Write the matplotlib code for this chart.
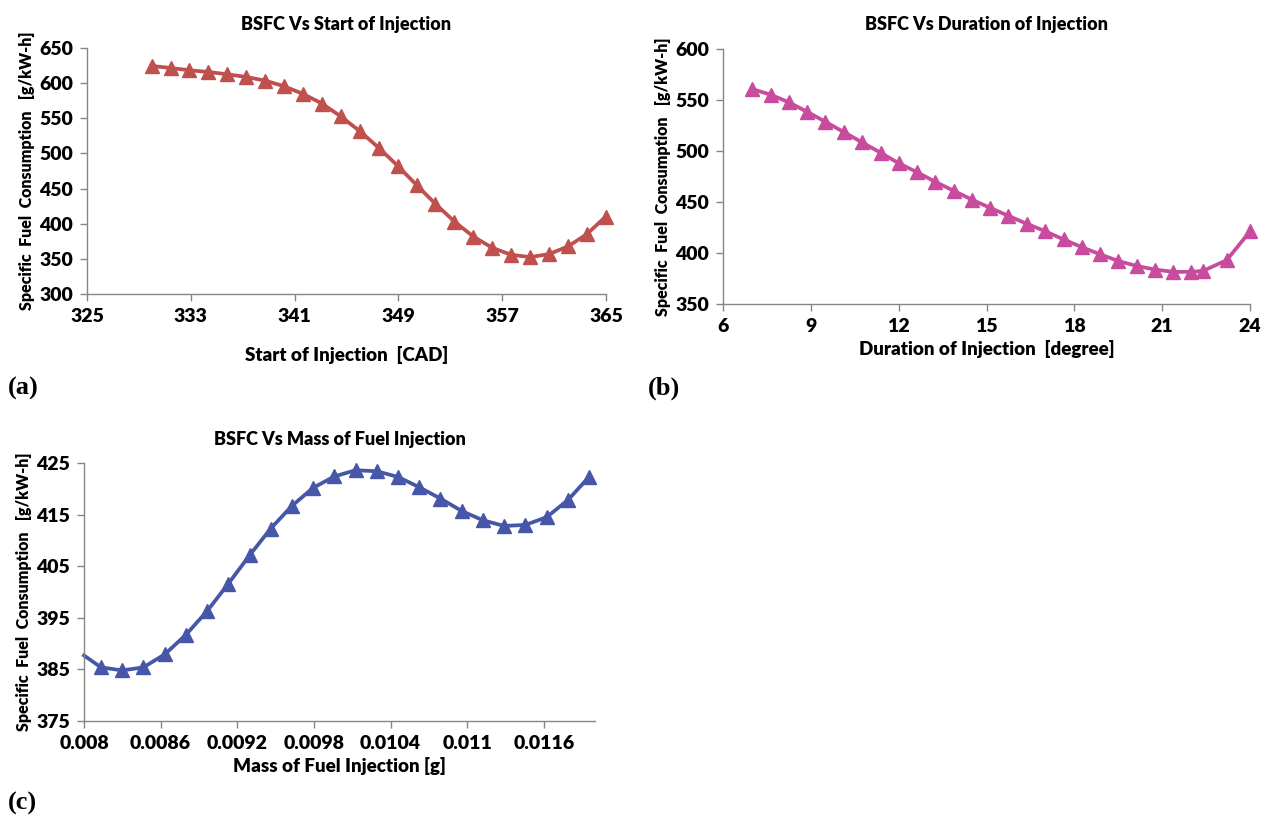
import matplotlib
matplotlib.use("Agg")
import matplotlib.pyplot as plt

plt.rcParams['font.family'] = ['Lato', 'DejaVu Sans']

# ---- Data (a) ----
soi_x = [329.98 + i * 35.0 / 24 for i in range(25)]
soi_y = [624.5, 621.6, 618.3, 615.9, 612.6, 608.8, 603.6, 595.6, 584.7, 571.0,
         552.6, 531.7, 508.1, 482.5, 455.1, 428.2, 403.1, 381.8, 365.7, 355.8,
         352.5, 356.7, 367.6, 385.1, 410.2]
soi_xticks = [325, 333, 341, 349, 357, 365]
soi_yticks = [300, 350, 400, 450, 500, 550, 600, 650]

# ---- Data (b) ----
doi_x = [7.0, 7.63, 8.25, 8.88, 9.5, 10.13, 10.75, 11.38, 12.0, 12.63, 13.25, 13.88,
         14.5, 15.13, 15.75, 16.38, 17.0, 17.63, 18.25, 18.88, 19.5, 20.13, 20.75,
         21.38, 22.0, 22.4, 23.2, 24.0]
doi_y = [560.7, 555.2, 547.7, 538.3, 528.6, 518.5, 508.4, 498.4, 488.0, 479.2, 469.8,
         461.0, 452.3, 444.2, 436.4, 428.6, 421.4, 413.3, 405.8, 398.7, 392.2, 387.3,
         383.8, 381.5, 381.5, 382.5, 392.9, 421.1]
doi_xticks = [6, 9, 12, 15, 18, 21, 24]
doi_yticks = [350, 400, 450, 500, 550, 600]

# ---- Data (c) ----
mfi_x = [0.008] + [0.008133 + i * 0.0001661 for i in range(24)]
mfi_y = [387.7, 385.4, 384.8, 385.4, 387.9, 391.7, 396.3, 401.6, 407.1, 412.3, 416.7,
         420.2, 422.4, 423.6, 423.4, 422.3, 420.3, 418.1, 415.7, 413.9, 412.8, 413.0,
         414.5, 417.8, 422.3]
mfi_xticks = [0.008, 0.0086, 0.0092, 0.0098, 0.0104, 0.011, 0.0116]
mfi_xticklabels = ['0.008', '0.0086', '0.0092', '0.0098', '0.0104', '0.011', '0.0116']
mfi_yticks = [375, 385, 395, 405, 415, 425]

W, H = 1266, 823
fig = plt.figure(figsize=(W / 100, H / 100), dpi=100)

def rect(l, t, r, b):
    return [l / W, 1 - b / H, (r - l) / W, (b - t) / H]

SPINE = '#868686'
WT = 'heavy'

def style(ax):
    for s in ['top', 'right']:
        ax.spines[s].set_visible(False)
    for s in ['left', 'bottom']:
        ax.spines[s].set_color(SPINE)
        ax.spines[s].set_linewidth(1.0)
    ax.tick_params(axis='both', direction='out', color=SPINE, length=5, width=1.0,
                   labelsize=14, pad=5)
    for lab in ax.get_xticklabels() + ax.get_yticklabels():
        lab.set_fontweight(WT)

ylab = 'Specific  Fuel  Consumption   [g/kW-h]'
TS = 13
XS = 13.5
YS = 11.5
LW = 2.7
MS = 10.5

# (a)
ax1 = fig.add_axes(rect(87, 48, 606, 294))
ax1.plot(soi_x, soi_y, color='#C0504D', lw=LW, marker='^', ms=MS, clip_on=False)
ax1.set_xlim(325, 365)
ax1.set_ylim(300, 650)
ax1.set_xticks(soi_xticks)
ax1.set_yticks(soi_yticks)
style(ax1)
ax1.set_title('BSFC Vs Start of Injection', fontsize=TS, fontweight=WT, pad=13)
ax1.set_xlabel('Start of Injection  [CAD]', fontsize=XS, fontweight=WT, labelpad=15)
ax1.set_ylabel(ylab, fontsize=YS, fontweight=WT, labelpad=3)

# (b)
ax2 = fig.add_axes(rect(723, 49, 1250, 304))
ax2.plot(doi_x, doi_y, color='#C84B9E', lw=LW, marker='^', ms=MS, clip_on=False)
ax2.set_xlim(6, 24)
ax2.set_ylim(350, 600)
ax2.set_xticks(doi_xticks)
ax2.set_yticks(doi_yticks)
style(ax2)
ax2.set_title('BSFC Vs Duration of Injection', fontsize=TS, fontweight=WT, pad=14)
ax2.set_xlabel('Duration of Injection  [degree]', fontsize=XS, fontweight=WT, labelpad=4)
ax2.set_ylabel(ylab, fontsize=YS, fontweight=WT, labelpad=3)

# (c)
ax3 = fig.add_axes(rect(84, 463, 595, 721))
ax3.plot(mfi_x, mfi_y, color='#4656A8', lw=LW, clip_on=False)
ax3.plot(mfi_x[1:], mfi_y[1:], color='#4656A8', lw=0, marker='^', ms=MS, clip_on=False)
ax3.set_xlim(0.008, 0.012)
ax3.set_ylim(375, 425)
ax3.set_xticks(mfi_xticks)
ax3.set_xticklabels(mfi_xticklabels)
ax3.set_yticks(mfi_yticks)
style(ax3)
ax3.set_title('BSFC Vs Mass of Fuel Injection', fontsize=TS, fontweight=WT, pad=13)
ax3.set_xlabel('Mass of Fuel Injection [g]', fontsize=XS, fontweight=WT, labelpad=4)
ax3.set_ylabel(ylab, fontsize=YS, fontweight=WT, labelpad=3)

for txt, (x, y) in [('(a)', (8, 395)), ('(b)', (648, 395)), ('(c)', (8, 810))]:
    fig.text(x / W, 1 - y / H, txt, fontsize=19, fontweight='bold',
             family=['Liberation Serif', 'DejaVu Serif'], ha='left', va='baseline')

fig.savefig('out.png', dpi=100, facecolor='white')
